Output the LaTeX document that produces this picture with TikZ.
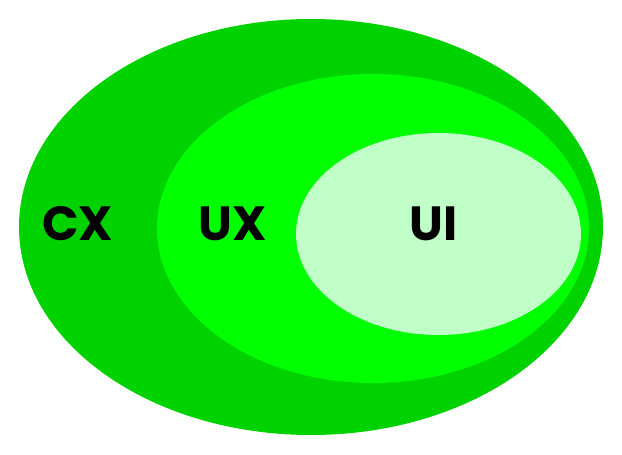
\documentclass[tikz,border=0pt]{standalone}
\usepackage{fontspec}
\setmainfont{Poppins}
\definecolor{cxgreen}{HTML}{00D200}
\definecolor{uxgreen}{HTML}{00FF00}
\definecolor{uigreen}{HTML}{C0FFC8}
\begin{document}
\begin{tikzpicture}[x=1pt, y=-1pt]
	\tikzstyle{every node} = [font=\fontsize{48}{48}\selectfont\bfseries, text=black, inner sep=0pt]
	\useasboundingbox (0,0) rectangle (622,455);
	\fill [cxgreen] (311,227) ellipse [x radius=292, y radius=208];
	\fill [uxgreen] (373,228.5) ellipse [x radius=216, y radius=154.5];
	\fill [uigreen] (438.5,234) ellipse [x radius=142.5, y radius=101];
	\node (cx) at (77.5,224) {CX};
	\node (ux) at (232.5,224) {UX};
	\node (ui) at (433.5,224) {UI};
\end{tikzpicture}
\end{document}
